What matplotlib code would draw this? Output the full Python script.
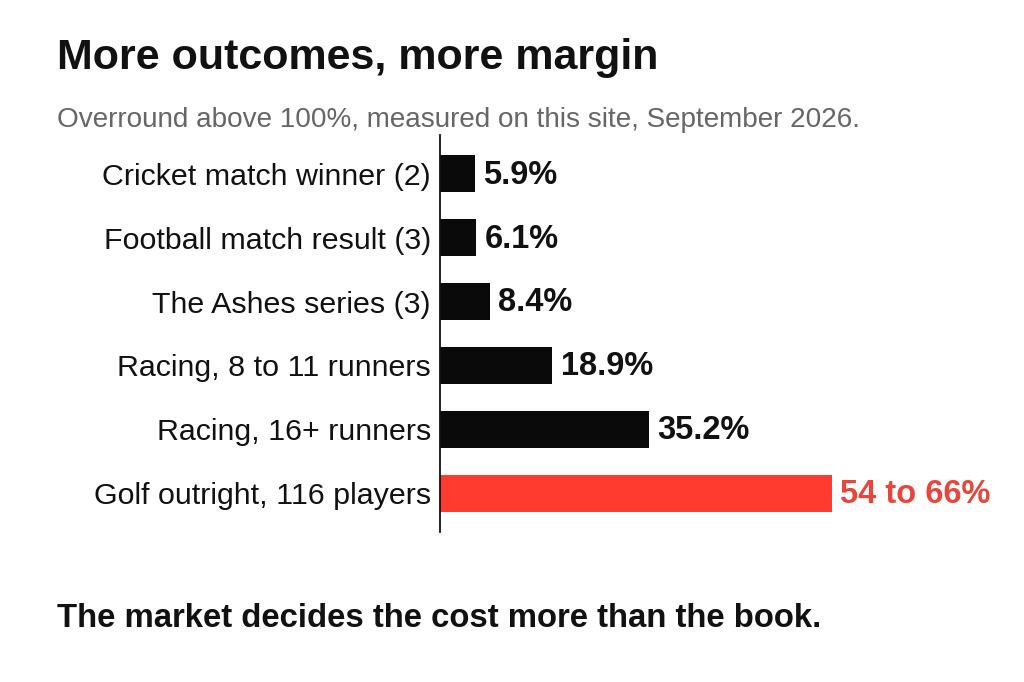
import matplotlib
matplotlib.use("Agg")
import matplotlib.pyplot as plt

categories = ["Cricket match winner (2)", "Football match result (3)", "The Ashes series (3)",
              "Racing, 8 to 11 runners", "Racing, 16+ runners", "Golf outright, 116 players"]
values = [5.9, 6.1, 8.4, 18.9, 35.2, 66.0]
value_labels = ["5.9%", "6.1%", "8.4%", "18.9%", "35.2%", "54 to 66%"]
highlight = [False, False, False, False, False, True]

plt.rcParams['font.family'] = ['Liberation Sans', 'DejaVu Sans']

fig = plt.figure(figsize=(10.24, 6.82), dpi=100)
fig.patch.set_facecolor("white")

ax = fig.add_axes([440/1024, (682-532)/682, 475/1024, 397/682])
ypos = list(range(len(categories)))
colors = ["#ff3b30" if h else "#0a0a0a" for h in highlight]
ax.barh(ypos, values, height=0.58, color=colors)
ax.set_ylim(len(categories) - 0.39, -0.61)
ax.set_xlim(0, 475/5.94)
ax.set_yticks(ypos)
ax.set_yticklabels(categories, fontsize=21.9, color="#111111")
ax.tick_params(axis="y", length=0, pad=6.5)
ax.set_xticks([])
for s in ["top", "right", "bottom"]:
    ax.spines[s].set_visible(False)
ax.spines["left"].set_color("#111111")
ax.spines["left"].set_linewidth(1.3)

for y, v, lab, h in zip(ypos, values, value_labels, highlight):
    ax.annotate(lab, xy=(v, y), xytext=(6, -1.0), textcoords="offset points",
                ha="left", va="center", fontsize=23.5, fontweight="bold",
                color="#e8453c" if h else "#111111")

fig.text(57/1024, 1 - 69/682, "More outcomes, more margin", fontsize=31, fontweight="bold",
         color="#111111", ha="left", va="baseline")
fig.text(57/1024, 1 - 127/682, "Overround above 100%, measured on this site, September 2026.",
         fontsize=20.1, color="#666666", ha="left", va="baseline")
fig.text(57/1024, 1 - 627/682, "The market decides the cost more than the book.",
         fontsize=23.7, fontweight="bold", color="#111111", ha="left", va="baseline")

fig.savefig("out.png", dpi=100, facecolor="white")
